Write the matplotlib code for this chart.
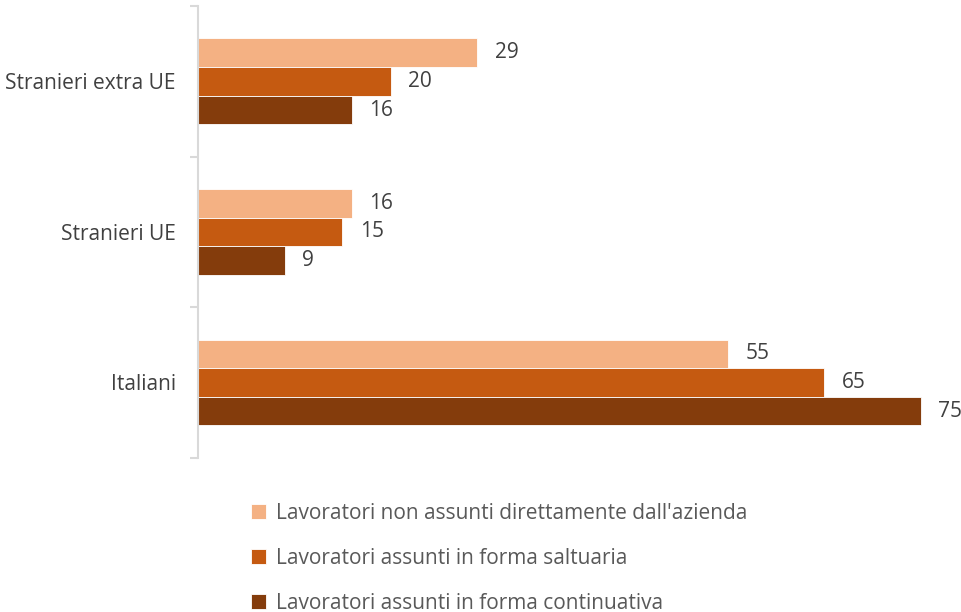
import matplotlib.pyplot as plt
import numpy as np

plt.rcParams['font.family'] = ['Open Sans', 'DejaVu Sans']

# categorie (dal basso verso l'alto) e serie
categorie = ["Italiani", "Stranieri UE", "Stranieri extra UE"]
non_assunti = [55, 16, 29]
saltuari = [65, 15, 20]
continuativi = [75, 9, 16]

serie = [
    ("Lavoratori non assunti direttamente dall'azienda", non_assunti, "#F4B183"),
    ("Lavoratori assunti in forma saltuaria", saltuari, "#C55A11"),
    ("Lavoratori assunti in forma continuativa", continuativi, "#843C0C"),
]

fig = plt.figure(figsize=(9.61, 6.12), dpi=100)
ax = fig.add_axes([0.206, 0.252, 0.774, 0.738])

y = np.arange(len(categorie))
h = 0.19
offsets = [h, 0, -h]

for (nome, valori, colore), off in zip(serie, offsets):
    barre = ax.barh(y + off, valori, height=h, color=colore, edgecolor="white",
                    linewidth=0.6, label=nome)
    for b, v in zip(barre, valori):
        ax.text(b.get_width() + 1.8, b.get_y() + b.get_height() / 2, str(v),
                va="center", ha="left", fontsize=15, color="#404040")

ax.set_xlim(0, 77.2)
ax.set_ylim(-0.5, 2.5)
ax.set_xticks([])
ax.set_yticks([-0.5, 0.5, 1.5, 2.5], minor=False)
ax.set_yticklabels([])
ax.set_yticks(y, minor=True)
ax.set_yticklabels(categorie, minor=True, fontsize=15, color="#404040")
ax.tick_params(axis="y", which="major", length=6, color="#D9D9D9", width=1.5)
ax.tick_params(axis="y", which="minor", length=0, pad=16)

for lato in ["top", "right", "bottom"]:
    ax.spines[lato].set_visible(False)
ax.spines["left"].set_color("#D9D9D9")
ax.spines["left"].set_linewidth(1.5)

fig.legend(loc="upper left", bbox_to_anchor=(0.252, 0.192), frameon=False,
           fontsize=15, labelcolor="#595959", handlelength=0.75,
           handleheight=0.75, handletextpad=0.45, labelspacing=1.15,
           borderaxespad=0)

fig.savefig("out.png", dpi=100)
